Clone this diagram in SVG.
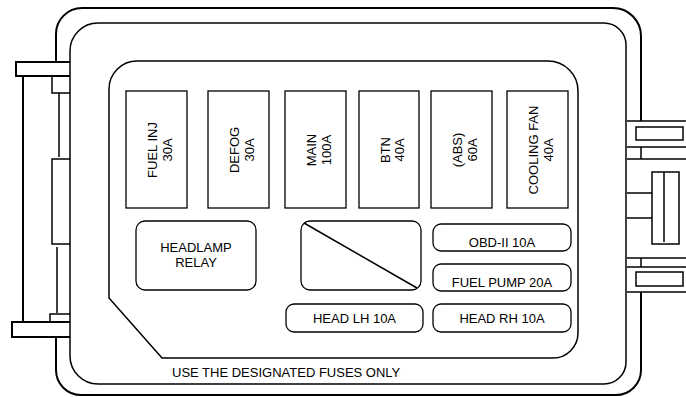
<svg xmlns="http://www.w3.org/2000/svg" width="686" height="397" viewBox="0 0 686 397">
<style>
.ln{fill:none;stroke:#000;stroke-width:1.5}
.thk{fill:none;stroke:#000;stroke-width:2}
.fuse{fill:#fff;stroke:#000;stroke-width:1.3}
.t{font-family:"Liberation Sans",Arial,sans-serif;font-size:13px;fill:#000}
.m{text-anchor:middle}
</style>
<rect width="686" height="397" fill="#fff"/>
<g id="housing">
<path class="thk" d="M56,62 V34 A26,26 0 0 1 82,8 H613 A28,28 0 0 1 641,36 V121"/>
<path class="thk" d="M641,292 V370 A25,25 0 0 1 616,395 H81 A25,25 0 0 1 56,370 V337"/>
<path class="ln" d="M70,51 A28,28 0 0 1 98,23 H604 A22,22 0 0 1 626,45 V362 A22,22 0 0 1 604,384 H98 A28,28 0 0 1 70,356 Z"/>
<path class="ln" d="M109,298 V89 A28,28 0 0 1 137,61 H548 A30,30 0 0 1 578,91 V333 A25,25 0 0 1 553,358 H162 Z"/>
</g>
<g id="left-connector">
<path class="thk" d="M70,62 H16 V76 H70"/>
<path class="thk" d="M23,76 V322"/>
<path class="ln" d="M52,76 V93 H70 M59,93 V157"/>
<path class="ln" d="M70,159 H52 V244 H70"/>
<path class="ln" d="M57,247 V313 M70,314 H50 V322"/>
<path class="thk" d="M70,322 H12 V337 H70"/>
</g>
<g id="right-connector">
<path class="ln" d="M627,121 H686 M627,147 H686 M641,147 V159 M627,159 H686"/>
<rect class="ln" x="636" y="127" width="47" height="13"/>
<rect class="ln" x="652" y="172" width="27" height="72"/>
<path class="ln" d="M664,172 V242 M627,193 H652 M627,218 H652"/>
<path class="ln" d="M627,258 H686 M641,258 V267 M627,267 H686 M627,292 H686"/>
<rect class="ln" x="636" y="272" width="47" height="14"/>
</g>
<g id="fuse-fuel-inj">
<rect class="fuse" x="126" y="91" width="61" height="117"/>
<text class="t m" transform="translate(156.5,150) rotate(-90)"><tspan x="0" y="0.5">FUEL INJ</tspan><tspan x="0" y="15">30A</tspan></text>
</g>
<g id="fuse-defog">
<rect class="fuse" x="208" y="91" width="61" height="117"/>
<text class="t m" transform="translate(238.5,150) rotate(-90)"><tspan x="0" y="0.5">DEFOG</tspan><tspan x="0" y="15">30A</tspan></text>
</g>
<g id="fuse-main">
<rect class="fuse" x="285" y="91" width="61" height="117"/>
<text class="t m" transform="translate(315.5,150) rotate(-90)"><tspan x="0" y="0.5">MAIN</tspan><tspan x="0" y="15">100A</tspan></text>
</g>
<g id="fuse-btn">
<rect class="fuse" x="359" y="91" width="60" height="117"/>
<text class="t m" transform="translate(389,150) rotate(-90)"><tspan x="0" y="0.5">BTN</tspan><tspan x="0" y="15">40A</tspan></text>
</g>
<g id="fuse-abs">
<rect class="fuse" x="431" y="91" width="61" height="117"/>
<text class="t m" transform="translate(461.5,150) rotate(-90)"><tspan x="0" y="0.5">(ABS)</tspan><tspan x="0" y="15">60A</tspan></text>
</g>
<g id="fuse-cooling-fan">
<rect class="fuse" x="507" y="91" width="61" height="117"/>
<text class="t m" transform="translate(537.5,150) rotate(-90)"><tspan x="0" y="0.5">COOLING FAN</tspan><tspan x="0" y="15">40A</tspan></text>
</g>
<g id="headlamp-relay">
<rect class="fuse" x="136" y="221" width="120" height="69" rx="9"/>
<text class="t m" x="196" y="252">HEADLAMP</text>
<text class="t m" x="196" y="267">RELAY</text>
</g>
<g id="blank-slot">
<rect class="fuse" x="301" y="221" width="120" height="69" rx="9"/>
<path class="ln" stroke-width="1.3" d="M304,223 L417,288"/>
</g>
<g id="obd-ii">
<rect class="fuse" x="433" y="224" width="138" height="27" rx="8"/>
<text class="t m" x="502" y="247">OBD-II 10A</text>
</g>
<g id="fuel-pump">
<rect class="fuse" x="433" y="264" width="138" height="27" rx="8"/>
<text class="t m" x="502" y="287">FUEL PUMP 20A</text>
</g>
<g id="head-lh">
<rect class="fuse" x="286" y="304" width="137" height="28" rx="8"/>
<text class="t m" x="354.5" y="323">HEAD LH 10A</text>
</g>
<g id="head-rh">
<rect class="fuse" x="433" y="304" width="138" height="28" rx="8"/>
<text class="t m" x="502" y="323">HEAD RH 10A</text>
</g>
<g id="note">
<text class="t" x="172" y="377">USE THE DESIGNATED FUSES ONLY</text>
</g>
</svg>
